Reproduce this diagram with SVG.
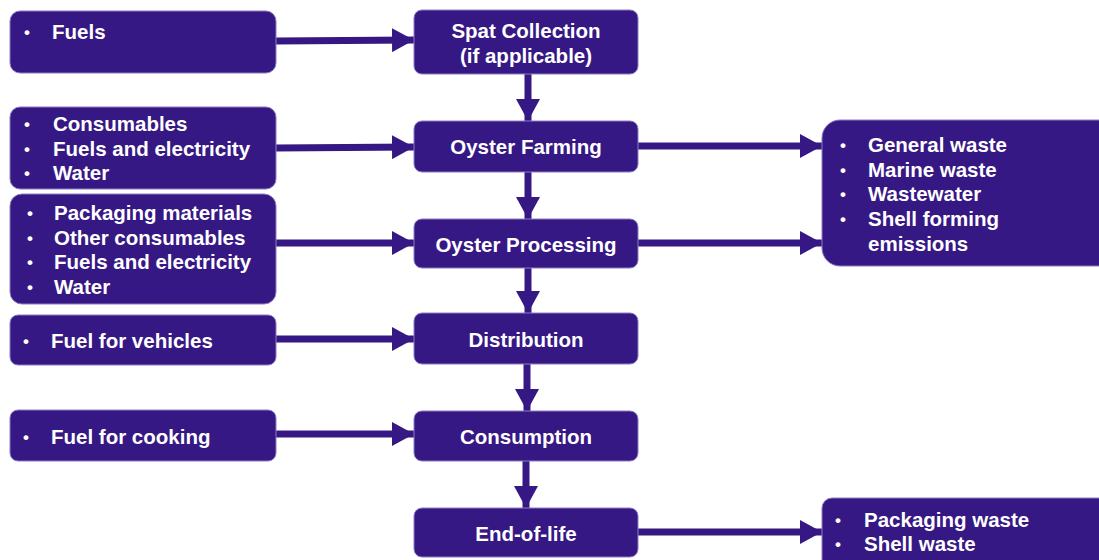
<svg xmlns="http://www.w3.org/2000/svg" width="1099" height="560" viewBox="0 0 1099 560">
<style>
.box{fill:#361884;stroke:#8a7cc2;stroke-width:1}
.t{font-family:"Liberation Sans",Arial,sans-serif;font-weight:bold;font-size:20.5px;fill:#ffffff}
.b{font-size:17px}
.c{text-anchor:middle}
.conn line{stroke:#361884;stroke-width:7;marker-end:url(#ah)}
</style>
<defs>
<marker id="ah" markerUnits="userSpaceOnUse" viewBox="0 0 22 24" markerWidth="22" markerHeight="24" refX="22" refY="12" orient="auto">
<path d="M0,0 L22,12 L0,24 z" fill="#361884"/>
</marker>
</defs>
<rect width="1099" height="560" fill="#ffffff"/>
<g class="conn" id="connectors">
<line x1="276" y1="41" x2="414" y2="40"/>
<line x1="276" y1="148" x2="414" y2="147"/>
<line x1="276" y1="243" x2="414" y2="243"/>
<line x1="276" y1="339" x2="414" y2="339"/>
<line x1="276" y1="434" x2="414" y2="434"/>
<line x1="638" y1="146" x2="822" y2="146"/>
<line x1="638" y1="243" x2="822" y2="243"/>
<line x1="638" y1="532" x2="822" y2="532"/>
<line x1="528" y1="74" x2="528" y2="121"/>
<line x1="528" y1="172" x2="528" y2="219"/>
<line x1="528" y1="268" x2="528" y2="313"/>
<line x1="527" y1="364" x2="527" y2="411"/>
<line x1="526" y1="461" x2="526" y2="508"/>
</g>
<g id="in-fuels">
<rect class="box" x="10" y="11" width="266" height="62" rx="10"/>
<text class="t b" x="24" y="38">•</text><text class="t" x="52" y="39">Fuels</text>
</g>
<g id="in-farming">
<rect class="box" x="10" y="107" width="266" height="82" rx="10"/>
<text class="t b" x="24" y="130">•</text><text class="t" x="53" y="131">Consumables</text>
<text class="t b" x="24" y="155">•</text><text class="t" x="53" y="156">Fuels and electricity</text>
<text class="t b" x="24" y="179">•</text><text class="t" x="53" y="180">Water</text>
</g>
<g id="in-processing">
<rect class="box" x="10" y="194" width="266" height="110" rx="12"/>
<text class="t b" x="27" y="219">•</text><text class="t" x="54" y="220">Packaging materials</text>
<text class="t b" x="27" y="244">•</text><text class="t" x="54" y="245">Other consumables</text>
<text class="t b" x="27" y="268">•</text><text class="t" x="54" y="269">Fuels and electricity</text>
<text class="t b" x="27" y="293">•</text><text class="t" x="54" y="294">Water</text>
</g>
<g id="in-distribution">
<rect class="box" x="10" y="315" width="266" height="50" rx="8"/>
<text class="t b" x="23" y="347">•</text><text class="t" x="51" y="348">Fuel for vehicles</text>
</g>
<g id="in-consumption">
<rect class="box" x="10" y="410" width="266" height="51" rx="8"/>
<text class="t b" x="23" y="443">•</text><text class="t" x="51" y="444">Fuel for cooking</text>
</g>
<g id="spat">
<rect class="box" x="414" y="10" width="224" height="64" rx="8"/>
<text class="t c" x="526" y="38">Spat Collection</text>
<text class="t c" x="526" y="63">(if applicable)</text>
</g>
<g id="farming">
<rect class="box" x="414" y="121" width="224" height="51" rx="8"/>
<text class="t c" x="526" y="154">Oyster Farming</text>
</g>
<g id="processing">
<rect class="box" x="414" y="219" width="224" height="49" rx="8"/>
<text class="t c" x="526" y="252">Oyster Processing</text>
</g>
<g id="distribution">
<rect class="box" x="414" y="313" width="224" height="51" rx="8"/>
<text class="t c" x="526" y="347">Distribution</text>
</g>
<g id="consumption">
<rect class="box" x="414" y="411" width="224" height="50" rx="8"/>
<text class="t c" x="526" y="444">Consumption</text>
</g>
<g id="endoflife">
<rect class="box" x="414" y="508" width="224" height="49" rx="8"/>
<text class="t c" x="526" y="541">End-of-life</text>
</g>
<g id="out-waste">
<rect class="box" x="822" y="120" width="300" height="146" rx="18"/>
<text class="t b" x="840" y="151">•</text><text class="t" x="868" y="152">General waste</text>
<text class="t b" x="840" y="176">•</text><text class="t" x="868" y="177">Marine waste</text>
<text class="t b" x="840" y="200">•</text><text class="t" x="868" y="201">Wastewater</text>
<text class="t b" x="840" y="225">•</text><text class="t" x="868" y="226">Shell forming</text>
<text class="t" x="868" y="251">emissions</text>
</g>
<g id="out-eol">
<rect class="box" x="822" y="498" width="300" height="80" rx="10"/>
<text class="t b" x="835" y="526">•</text><text class="t" x="864" y="527">Packaging waste</text>
<text class="t b" x="835" y="550">•</text><text class="t" x="864" y="551">Shell waste</text>
</g>
</svg>
